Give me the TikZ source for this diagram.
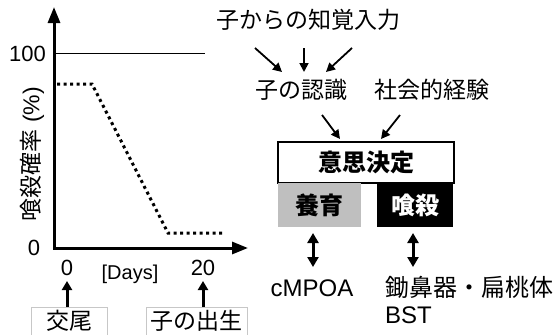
\documentclass[tikz,border=0pt]{standalone}
\usepackage{fontspec}
\setmainfont{Liberation Sans}
\newfontfamily\jp{Noto Sans CJK JP}
\usetikzlibrary{arrows.meta}
\begin{document}
\begin{tikzpicture}[x=1pt,y=-1pt,
  axis/.style={line width=3pt, line join=miter, {Triangle[length=16pt,width=12pt]}-{Triangle[length=16pt,width=12pt]}},
  smallarr/.style={line width=1.8pt, -{Triangle[length=9pt,width=9pt]}},
  dblarr/.style={line width=3pt, {Triangle[length=10pt,width=11pt]}-{Triangle[length=10pt,width=11pt]}},
  uparr/.style={line width=3pt, -{Triangle[length=9pt,width=10pt]}},
  num/.style={inner sep=0pt, font=\fontsize{22}{24}\selectfont},
  jl/.style={inner sep=0pt, font=\jp\fontsize{23}{25}\selectfont},
  evbox/.style={draw=black!22, line width=1pt, inner sep=0pt, anchor=north, minimum height=34pt,
                text height=20pt, text depth=11pt, font=\jp\fontsize{23}{25}\selectfont},
  actbox/.style={inner sep=0pt, minimum height=44pt, font=\jp\bfseries\fontsize{24}{26}\selectfont}
]
\useasboundingbox (0,0) rectangle (555,335);

% ---- graph ----
\coordinate (ytip) at (54,7);
\coordinate (O) at (54,248);
\coordinate (xtip) at (248,248);
\draw[axis] (ytip) -- (O) -- (xtip);
\coordinate (h0) at (54,53);
\coordinate (h1) at (205,53);
\draw[line width=1pt] (h0) -- (h1);
\coordinate (d0) at (57,84);
\coordinate (d1) at (92,84);
\coordinate (d2) at (168,233);
\coordinate (d3) at (224,233);
\draw[line width=3pt, dash pattern=on 3pt off 3.5pt] (d0) -- (d1) -- (d2) -- (d3);

\node[num, anchor=east] (l100) at (46,54) {100};
\node[num] (l0) at (34,248) {0};
\node[num] (x0) at (67,268) {0};
\node[num] (x20) at (203,268) {20};
\node[inner sep=0pt, font=\fontsize{20}{22}\selectfont] (days) at (130,274) {[Days]};
\node[inner sep=0pt, rotate=90, font=\fontsize{23}{25}\selectfont] (ylab) at (32,154) {{\jp 喰殺確率} (\%)};

\node[evbox, minimum width=76pt] (kobi) at (69,307) {交尾};
\node[evbox, minimum width=101pt] (birth) at (196.5,307) {子の出生};
\coordinate (a0) at (67,281);
\coordinate (a20) at (203,281);
\draw[uparr] (kobi.north -| a0) -- (a0);
\draw[uparr] (birth.north -| a20) -- (a20);

% ---- scheme ----
\node[jl] (input) at (308,20) {子からの知覚入力};
\node[jl] (recog) at (301,90) {子の認識};
\node[jl] (social) at (432,90) {社会的経験};
\coordinate (i1s) at (255,48); \coordinate (i1e) at (282,72);
\coordinate (i2s) at (304,48); \coordinate (i2e) at (304,72);
\coordinate (i3s) at (352,48); \coordinate (i3e) at (326,72);
\draw[smallarr] (i1s) -- (i1e);
\draw[smallarr] (i2s) -- (i2e);
\draw[smallarr] (i3s) -- (i3e);
\coordinate (r1s) at (322,115); \coordinate (r1e) at (340,139);
\coordinate (r2s) at (400,115); \coordinate (r2e) at (381,139);
\draw[smallarr] (r1s) -- (r1e);
\draw[smallarr] (r2s) -- (r2e);

\node[draw, line width=1.2pt, fill=white, inner sep=0pt, minimum width=176pt, minimum height=41pt,
      font=\jp\bfseries\fontsize{24}{26}\selectfont] (dec) at (366,162.5) {意思決定};
\node[actbox, fill=black!25, minimum width=83pt] (nurt) at (319.5,205) {養育};
\node[actbox, fill=black, text=white, minimum width=76pt] (kill) at (415,205) {喰殺};

\coordinate (b1s) at (313,233); \coordinate (b1e) at (313,267);
\coordinate (b2s) at (413,233); \coordinate (b2e) at (413,267);
\draw[dblarr] (b1s) -- (b1e);
\draw[dblarr] (b2s) -- (b2e);

\node[inner sep=0pt, font=\fontsize{24}{26}\selectfont] (cmpoa) at (312,288) {cMPOA};
\node[jl, anchor=west, font=\jp\fontsize{24}{26}\selectfont] (vno) at (385,287) {鋤鼻器・扁桃体};
\node[inner sep=0pt, anchor=west, font=\fontsize{24}{26}\selectfont] (bst) at (385,315) {BST};
\end{tikzpicture}
\end{document}
